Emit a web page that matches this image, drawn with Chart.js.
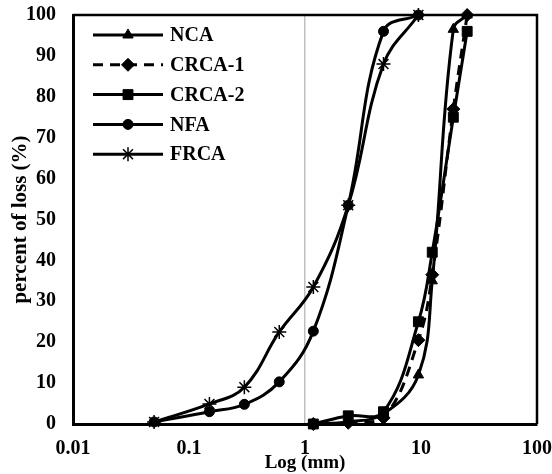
<!DOCTYPE html>
<html>
<head>
<meta charset="utf-8">
<script src="https://cdn.jsdelivr.net/npm/chart.js@4/dist/chart.umd.min.js"></script>
<style>
  html, body { margin: 0; padding: 0; background: #fff; }
</style>
</head>
<body>
<canvas id="sieveChart" width="552" height="474"></canvas>
<script>
// tick labels
const xTicks = [0.01, 0.1, 1, 10, 100];
const yTicks = [0, 10, 20, 30, 40, 50, 60, 70, 80, 90, 100];

// sieve sizes (mm)
const fineSizes = [0.05, 0.15, 0.3, 0.6, 1.18, 2.36, 4.75, 9.5];
const coarseSizes = [1.18, 2.36, 4.75, 9.5, 12.5, 19, 25];

// percent of loss for each material
const ncaValues = [0, 0.5, 2.5, 12, 35, 96.5, 100];
const crca1Values = [0, 0.3, 1.5, 20.5, 36.5, 77, 100];
const crca2Values = [0, 2, 3, 25, 42, 75, 96];
const nfaValues = [0.5, 3, 4.8, 10.3, 22.7, 53.5, 96, 100];
const frcaValues = [0.5, 4.9, 9, 22.5, 33.5, 53.5, 88, 100];

const seriesNames = ['NCA', 'CRCA-1', 'CRCA-2', 'NFA', 'FRCA'];

const FONT = '"Liberation Serif", "Times New Roman", serif';

function toPoints(xs, ys) {
  return xs.map((x, i) => ({ x: x, y: ys[i] }));
}

function makeSeries(name, xs, ys, style, radius, dash) {
  return {
    label: name,
    data: toPoints(xs, ys),
    showLine: true,
    borderColor: '#000',
    backgroundColor: '#000',
    borderWidth: 3,
    borderDash: dash || [],
    tension: 0.4,
    pointStyle: style,
    pointRadius: radius,
    pointBorderWidth: style === 'star' ? 1.5 : 1,
    pointBackgroundColor: '#000',
    pointBorderColor: '#000',
    clip: false
  };
}

const datasets = [
  makeSeries(seriesNames[0], coarseSizes, ncaValues, 'triangle', 6),
  makeSeries(seriesNames[1], coarseSizes, crca1Values, 'rectRot', 6.5, [10, 7]),
  makeSeries(seriesNames[2], coarseSizes, crca2Values, 'rect', 7),
  makeSeries(seriesNames[3], fineSizes, nfaValues, 'circle', 5),
  makeSeries(seriesNames[4], fineSizes, frcaValues, 'star', 7)
];

// top/right frame of the plot area
const plotFrame = {
  id: 'plotFrame',
  afterDatasetsDraw(chart) {
    const { ctx, chartArea } = chart;
    ctx.save();
    ctx.strokeStyle = '#000';
    ctx.lineWidth = 2.5;
    ctx.beginPath();
    ctx.moveTo(chartArea.left, chartArea.top);
    ctx.lineTo(chartArea.right, chartArea.top);
    ctx.lineTo(chartArea.right, chartArea.bottom);
    ctx.stroke();
    ctx.restore();
  }
};

// legend drawn inside the plot, top left
const insideLegend = {
  id: 'insideLegend',
  afterDraw(chart) {
    const { ctx, chartArea } = chart;
    chart.data.datasets.forEach((ds, i) => {
      const y = chartArea.top + 20 + i * 29.8;
      const x0 = chartArea.left + 20;
      const x1 = chartArea.left + 90;
      ctx.save();
      ctx.strokeStyle = '#000';
      ctx.fillStyle = '#000';
      ctx.lineWidth = 3;
      ctx.setLineDash(ds.borderDash);
      ctx.beginPath();
      ctx.moveTo(x0, y);
      ctx.lineTo(x1, y);
      ctx.stroke();
      ctx.setLineDash([]);
      ctx.lineWidth = ds.pointBorderWidth;
      Chart.helpers.drawPoint(ctx, {
        pointStyle: ds.pointStyle,
        radius: ds.pointRadius,
        borderWidth: ds.pointBorderWidth,
        rotation: 0
      }, (x0 + x1) / 2, y);
      ctx.font = 'bold 20px ' + FONT;
      ctx.textBaseline = 'middle';
      ctx.textAlign = 'left';
      ctx.fillText(ds.label, chartArea.left + 97, y + 1);
      ctx.restore();
    });
  }
};

const chart = new Chart(document.getElementById('sieveChart'), {
  type: 'scatter',
  data: { datasets: datasets },
  plugins: [plotFrame, insideLegend],
  options: {
    responsive: false,
    animation: false,
    devicePixelRatio: 1,
    layout: { autoPadding: false, padding: { top: 15, right: 15, left: 0, bottom: 0 } },
    plugins: {
      legend: { display: false },
      tooltip: { enabled: false }
    },
    scales: {
      x: {
        type: 'logarithmic',
        min: 0.01,
        max: 100,
        afterBuildTicks: scale => { scale.ticks = xTicks.map(v => ({ value: v })); },
        afterFit: scale => {
          scale.height = 50;
          scale.paddingLeft = 0;
          scale.paddingRight = 0;
        },
        ticks: {
          callback: v => String(v),
          autoSkip: false,
          maxRotation: 0,
          padding: 13,
          color: '#000',
          font: { family: FONT, size: 20, weight: 'bold' }
        },
        grid: {
          drawTicks: false,
          lineWidth: 1.5,
          color: c => (c.tick && c.tick.value === 1 ? '#bfbfbf' : 'rgba(0,0,0,0)')
        },
        border: { color: '#000', width: 3 },
        title: {
          display: true,
          text: 'Log (mm)',
          color: '#000',
          padding: { top: 0, bottom: 0 },
          font: { family: FONT, size: 19, weight: 'bold' }
        }
      },
      y: {
        min: 0,
        max: 100,
        afterBuildTicks: scale => { scale.ticks = yTicks.map(v => ({ value: v })); },
        afterFit: scale => {
          scale.width = 73;
          scale.paddingTop = 0;
          scale.paddingBottom = 0;
        },
        ticks: {
          padding: 17,
          color: '#000',
          font: { family: FONT, size: 20, weight: 'bold' }
        },
        grid: { display: false, drawTicks: false },
        border: { color: '#000', width: 3 },
        title: {
          display: true,
          text: 'percent of loss (%)',
          color: '#000',
          padding: { top: 8, bottom: 0 },
          font: { family: FONT, size: 21, weight: 'bold' }
        }
      }
    }
  }
});
</script>
</body>
</html>
